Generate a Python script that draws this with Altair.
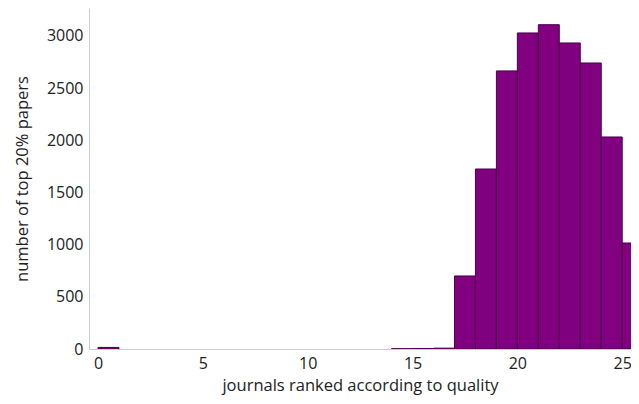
import altair as alt
import pandas as pd

bin_start = [0, 14, 15, 16, 17, 18, 19, 20, 21, 22, 23, 24, 25]
counts = [15, 3, 5, 8, 700, 1725, 2665, 3029, 3108, 2933, 2741, 2032, 1016]
x_ticks = [0, 5, 10, 15, 20, 25]
y_ticks = [0, 500, 1000, 1500, 2000, 2500, 3000]

df = pd.DataFrame({"start": bin_start, "count": counts})
df["end"] = df["start"] + 1

FONT = "Open Sans"

chart = (
    alt.Chart(df)
    .mark_rect(color="#800080", stroke="#4a0048", strokeWidth=1, clip=True)
    .encode(
        x=alt.X(
            "start:Q",
            scale=alt.Scale(domain=[-0.43, 25.42], nice=False, zero=False),
            axis=alt.Axis(
                values=x_ticks,
                format="d",
                title="journals ranked according to quality",
                grid=False,
                ticks=False,
                domainColor="#cccccc",
                labelPadding=6,
                titlePadding=6,
            ),
        ),
        x2="end:Q",
        y=alt.Y(
            "count:Q",
            scale=alt.Scale(domain=[0, 3268], nice=False),
            axis=alt.Axis(
                values=y_ticks,
                format="d",
                title="number of top 20% papers",
                grid=False,
                ticks=False,
                domainColor="#cccccc",
                labelPadding=6,
                titlePadding=16,
            ),
        ),
        y2=alt.Y2(datum=0),
    )
    .properties(
        width=542,
        height=341,
        autosize=alt.AutoSizeParams(type="none"),
        padding={"left": 81, "top": 0, "right": 0, "bottom": 47},
    )
    .configure_view(stroke=None)
    .configure_axis(
        labelFont=FONT,
        titleFont=FONT,
        labelFontSize=16,
        titleFontSize=16.5,
        titleFontWeight="normal",
        labelColor="#222222",
        titleColor="#222222",
    )
)

chart.save("out.html", embed_options={"renderer": "svg", "actions": False})
